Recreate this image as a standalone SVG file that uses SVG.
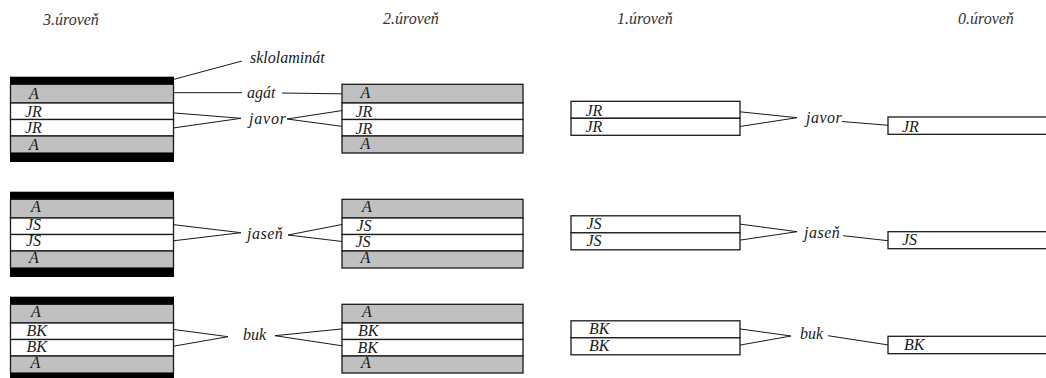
<svg xmlns="http://www.w3.org/2000/svg" width="1046" height="378" viewBox="0 0 1046 378">
<style>
text{font-family:"Liberation Serif","Times New Roman",serif;font-style:italic;font-size:16px;fill:#1a1a1a}
.t{font-size:16px;fill:#333}
.g{fill:#c0c0c0;stroke:#1a1a1a;stroke-width:1.3}
.w{fill:#fff;stroke:#1a1a1a;stroke-width:1.3}
.b{fill:#000}
.c{fill:none;stroke:#1a1a1a;stroke-width:1}
</style>
<rect width="1046" height="378" fill="#fff"/>
<g id="titles">
<text class="t" x="43" y="25">3.úroveň</text>
<text class="t" x="383" y="24">2.úroveň</text>
<text class="t" x="617" y="24">1.úroveň</text>
<text class="t" x="958" y="24">0.úroveň</text>
</g>
<g id="connectors">
<path class="c" d="M174 79.3L242 61"/>
<path class="c" d="M166 92.7H242M282 93L353 94"/>
<path class="c" d="M166 112.3L241 118.3L166 129M349 109.5L287 119L347 127"/>
<path class="c" d="M732 111L797 117.7L732 127.7M842 121.5L897 126"/>
<path class="c" d="M168 224L241 232.7L166 241.7M348 223.3L288 235L349 242.3"/>
<path class="c" d="M734 223.3L797 231.7L732 241.3M843 235.7L897 241.7"/>
<path class="c" d="M165 328.3L228 336.7L165 347.7M348 328.3L275 335.7L348 346.7"/>
<path class="c" d="M731 327.7L791 336L731 346.7M828 335.7L893 345.7"/>
</g>
<g id="labels">
<text x="250" y="63">sklolaminát</text>
<text x="247" y="98">agát</text>
<text x="249" y="124" letter-spacing="0.8">javor</text>
<text x="247" y="238.5" letter-spacing="0.5">jaseň</text>
<text x="243" y="340">buk</text>
<text x="806" y="123" letter-spacing="0.5">javor</text>
<text x="804" y="237.5" letter-spacing="0.5">jaseň</text>
<text x="800" y="338.5">buk</text>
</g>
<g id="n3-javor">
<rect class="b" x="10" y="76.7" width="164" height="8"/>
<rect class="g" x="10.5" y="84.3" width="163" height="18.7"/>
<rect class="w" x="10.5" y="103" width="163" height="16.5"/>
<rect class="w" x="10.5" y="119.5" width="163" height="16.5"/>
<rect class="g" x="10.5" y="136" width="163" height="17"/>
<rect class="b" x="10" y="153" width="164" height="9"/>
<text x="29" y="98.7">A</text><text x="25" y="117">JR</text><text x="25" y="133">JR</text><text x="29" y="150">A</text>
</g>
<g id="n3-jasen" transform="translate(0,115)">
<rect class="b" x="10" y="76.7" width="164" height="8"/>
<rect class="g" x="10.5" y="84.3" width="163" height="18.7"/>
<rect class="w" x="10.5" y="103" width="163" height="16.5"/>
<rect class="w" x="10.5" y="119.5" width="163" height="16.5"/>
<rect class="g" x="10.5" y="136" width="163" height="17"/>
<rect class="b" x="10" y="153" width="164" height="9"/>
<text x="31" y="96.7">A</text><text x="26" y="115">JS</text><text x="26" y="130.7">JS</text><text x="29" y="148.3">A</text>
</g>
<g id="n3-buk" transform="translate(0,220)">
<rect class="b" x="10" y="76.7" width="164" height="8"/>
<rect class="g" x="10.5" y="84.3" width="163" height="18.7"/>
<rect class="w" x="10.5" y="103" width="163" height="16.5"/>
<rect class="w" x="10.5" y="119.5" width="163" height="16.5"/>
<rect class="g" x="10.5" y="136" width="163" height="17"/>
<rect class="b" x="10" y="153" width="164" height="9"/>
<text x="31" y="96.7">A</text><text x="26.5" y="115.7">BK</text><text x="26.5" y="131.7">BK</text><text x="30.5" y="148.3">A</text>
</g>
<g id="n2-javor">
<rect class="g" x="342" y="84.3" width="181" height="18.7"/>
<rect class="w" x="342" y="103" width="181" height="16.5"/>
<rect class="w" x="342" y="119.5" width="181" height="16.5"/>
<rect class="g" x="342" y="136" width="181" height="17"/>
<text x="360.5" y="97.7">A</text><text x="355.5" y="116.7">JR</text><text x="355.5" y="134">JR</text><text x="360.5" y="149">A</text>
</g>
<g id="n2-jasen" transform="translate(0,115)">
<rect class="g" x="342" y="84.3" width="181" height="18.7"/>
<rect class="w" x="342" y="103" width="181" height="16.5"/>
<rect class="w" x="342" y="119.5" width="181" height="16.5"/>
<rect class="g" x="342" y="136" width="181" height="17"/>
<text x="362" y="97.3">A</text><text x="356.5" y="116">JS</text><text x="355.5" y="131.7">JS</text><text x="360.5" y="148.3">A</text>
</g>
<g id="n2-buk" transform="translate(0,220)">
<rect class="g" x="342" y="84.3" width="181" height="18.7"/>
<rect class="w" x="342" y="103" width="181" height="16.5"/>
<rect class="w" x="342" y="119.5" width="181" height="16.5"/>
<rect class="g" x="342" y="136" width="181" height="17"/>
<text x="362" y="96.7">A</text><text x="358" y="115.7">BK</text><text x="357.5" y="132.7">BK</text><text x="361" y="148.3">A</text>
</g>
<g id="n1-javor">
<rect class="w" x="571" y="101.3" width="169" height="17"/>
<rect class="w" x="571" y="118.3" width="169" height="17"/>
<text x="585.5" y="115.7">JR</text><text x="585.5" y="132.3">JR</text>
</g>
<g id="n1-jasen" transform="translate(0,114.5)">
<rect class="w" x="571" y="101.3" width="169" height="17"/>
<rect class="w" x="571" y="118.3" width="169" height="17"/>
<text x="586.5" y="114.5">JS</text><text x="586.5" y="131.2">JS</text>
</g>
<g id="n1-buk" transform="translate(0,219.5)">
<rect class="w" x="571" y="101.3" width="169" height="17"/>
<rect class="w" x="571" y="118.3" width="169" height="17"/>
<text x="589" y="114.8">BK</text><text x="589" y="131.5">BK</text>
</g>
<g id="n0-javor">
<rect class="w" x="888" y="117" width="170" height="17.3"/>
<text x="902" y="131.7">JR</text>
</g>
<g id="n0-jasen">
<rect class="w" x="888" y="231.7" width="170" height="17"/>
<text x="902" y="245">JS</text>
</g>
<g id="n0-buk">
<rect class="w" x="888" y="336.3" width="170" height="17.4"/>
<text x="904" y="350">BK</text>
</g>
</svg>
